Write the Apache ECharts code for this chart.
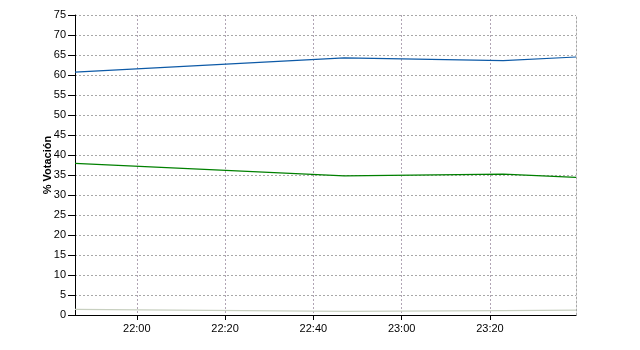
<!DOCTYPE html>
<html><head><meta charset="utf-8">
<script src="https://cdn.jsdelivr.net/npm/echarts@6/dist/echarts.min.js"></script>
<style>html,body{margin:0;padding:0;background:#fff}#c{width:640px;height:350px}</style>
</head><body><div id="c"></div>
<script>
var times = ['21:46', '22:47', '23:23', '23:39.5'];
var seriesBlue = [60.7, 64.3, 63.6, 64.5];
var seriesGreen = [37.9, 34.8, 35.2, 34.4];
var seriesOther = [1.4, 0.9, 1.1, 1.2];
var xTickLabels = ['22:00', '22:20', '22:40', '23:00', '23:20'];
var yTicks = {min: 0, max: 75, interval: 5};
var yName = '% Votación';

function toMin(s){ var p = s.split(':'); return parseInt(p[0],10)*60 + parseFloat(p[1]); }
function fmt(m){ var h = Math.floor(m/60), mm = Math.round(m - h*60); return h + ':' + (mm<10?'0':'') + mm; }
function pairs(vals){ return vals.map(function(v,i){ return [toMin(times[i]), v]; }); }
var xMin = toMin(times[0]), xMax = toMin(times[times.length-1]);
var xCustom = xTickLabels.map(toMin);
var chart = echarts.init(document.getElementById('c'));
var font = 'Liberation Sans, Arial, sans-serif';
chart.setOption({
  animation: false,
  grid: {left: 75, right: 64, top: 15, bottom: 35},
  xAxis: {
    type: 'value', min: xMin, max: xMax,
    axisLine: {lineStyle: {color: '#000', width: 1}},
    axisTick: {show: true, length: 5, lineStyle: {color: '#000'}, customValues: xCustom},
    axisLabel: {formatter: fmt, color: '#000', fontFamily: font, fontSize: 11, margin: 8, customValues: xCustom},
    splitLine: {show: true, lineStyle: {color: '#b0a4b4', type: [2,2], width: 1}}
  },
  yAxis: [{
    type: 'value', min: yTicks.min, max: yTicks.max, interval: yTicks.interval,
    name: yName, nameLocation: 'middle', nameGap: 22, nameRotate: 90, nameMoveOverlap: false,
    nameTextStyle: {color: '#000', fontFamily: font, fontSize: 11, fontWeight: 'bold'},
    axisLine: {show: true, lineStyle: {color: '#000', width: 1}},
    axisTick: {show: true, length: 7, lineStyle: {color: '#000'}},
    axisLabel: {color: '#000', fontFamily: font, fontSize: 11, margin: 9},
    splitLine: {show: true, lineStyle: {color: '#a8a8a8', type: [2,2], width: 1}}
  }, {
    type: 'value', position: 'right', min: yTicks.min, max: yTicks.max, interval: yTicks.interval,
    axisLine: {show: true, lineStyle: {color: '#a8a8a8', type: [2,2], width: 1}},
    axisTick: {show: false}, axisLabel: {show: false}, splitLine: {show: false}
  }],
  series: [
    {type: 'line', data: pairs(seriesOther), symbol: 'none', lineStyle: {color: '#c8d0c0', width: 1.2}},
    {type: 'line', data: pairs(seriesGreen), symbol: 'none', lineStyle: {color: '#008000', width: 1.2}},
    {type: 'line', data: pairs(seriesBlue), symbol: 'none', lineStyle: {color: '#0d5aa7', width: 1.2}}
  ]
});
</script></body></html>
